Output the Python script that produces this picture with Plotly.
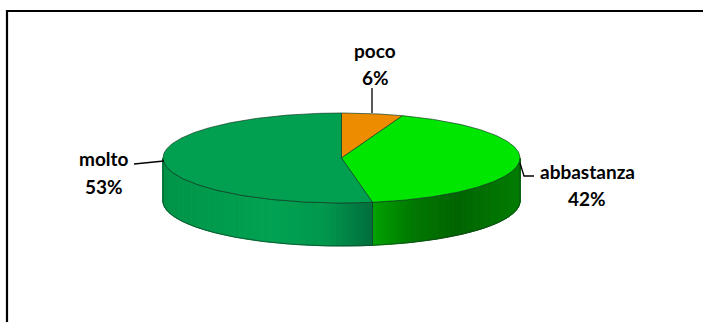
import numpy as np
import plotly.graph_objects as go

# ---- data ----
categories = ["poco", "abbastanza", "molto"]
values = [2, 15, 19]

# ---- style ----
top_colors = {"poco": "#EE8C00", "abbastanza": "#00E600", "molto": "#00A050"}
# side gradient stops: (fraction of ellipse width from left, rgb)
side_stops = {
    "abbastanza": [(0.58, (0, 165, 0)), (0.70, (0, 120, 0)), (0.82, (0, 100, 0)), (1.0, (0, 125, 0))],
    "molto": [(0.0, (0, 148, 72)), (0.30, (0, 162, 82)), (0.45, (0, 152, 76)), (0.59, (0, 108, 60))],
    "poco": [(0.0, (200, 110, 0)), (1.0, (200, 110, 0))],
}
EDGE = "rgba(20,60,35,0.85)"
FONT = dict(family="Lato, 'Open Sans', sans-serif", size=19, color="black")

W, H = 703, 322
CX, CY, RX, RY, DEPTH = 341.5, 158.0, 178.5, 45.0, 43.0


def pt(theta, dy=0.0):
    t = np.radians(theta)
    return CX + RX * np.sin(t), CY - RY * np.cos(t) + dy


def interp_color(stops, u):
    us = [s[0] for s in stops]
    out = []
    for k in range(3):
        out.append(int(round(np.interp(u, us, [s[1][k] for s in stops]))))
    return "rgb(%d,%d,%d)" % tuple(out)


total = float(sum(values))
fracs = [v / total for v in values]
starts, ends = [], []
cum = 0.0
for f in fracs:
    starts.append(cum * 360.0)
    cum += f
    ends.append(cum * 360.0)

fig = go.Figure()

# ---- side walls (front half: 90..270 deg) ----
for cat, a0, a1 in zip(categories, starts, ends):
    lo, hi = max(a0, 90.0), min(a1, 270.0)
    if hi <= lo:
        continue
    n = max(2, int(np.ceil(hi - lo)))
    th = np.linspace(lo, hi, n + 1)
    for i in range(n):
        x0, y0 = pt(th[i])
        x1, y1 = pt(th[i + 1])
        u = ((x0 + x1) / 2 - (CX - RX)) / (2 * RX)
        c = interp_color(side_stops[cat], u)
        fig.add_trace(go.Scatter(
            x=[x0, x1, x1, x0, x0], y=[y0, y1, y1 + DEPTH, y0 + DEPTH, y0],
            mode="lines", fill="toself", fillcolor=c,
            line=dict(color=c, width=1), hoverinfo="skip", showlegend=False))
    # outline of this wall piece
    ta = np.linspace(lo, hi, 120)
    xs_t, ys_t = pt(ta)
    xs_b, ys_b = pt(ta[::-1], DEPTH)
    fig.add_trace(go.Scatter(
        x=list(xs_t) + list(xs_b) + [xs_t[0]],
        y=list(ys_t) + list(ys_b) + [ys_t[0]],
        mode="lines", line=dict(color=EDGE, width=0.8),
        hoverinfo="skip", showlegend=False))

# ---- top face slices ----
for cat, a0, a1 in zip(categories, starts, ends):
    ta = np.linspace(a0, a1, max(10, int(a1 - a0) * 2))
    xs, ys = pt(ta)
    fig.add_trace(go.Scatter(
        x=[CX] + list(xs) + [CX], y=[CY] + list(ys) + [CY],
        mode="lines", fill="toself", fillcolor=top_colors[cat],
        line=dict(color=EDGE, width=0.8), hoverinfo="skip", showlegend=False))

# ---- labels ----
pct = [int(round(f * 100)) for f in fracs]
label_pos = {  # (x center, y of name, y of pct)
    "poco": (375, 50, 77),
    "abbastanza": (587, 171, 198),
    "molto": (104, 158, 186),
}
annotations = []
for cat, p in zip(categories, pct):
    x, yn, yp = label_pos[cat]
    annotations.append(dict(x=x, y=yn, xref="x", yref="y", text="<b>%s</b>" % cat,
                            showarrow=False, font=FONT, xanchor="center", yanchor="middle"))
    annotations.append(dict(x=x, y=yp, xref="x", yref="y", text="<b>%d%%</b>" % p,
                            showarrow=False, font=FONT, xanchor="center", yanchor="middle"))

# leader lines
leaders = {
    "poco": ([372, 372], [88, 113]),
    "abbastanza": ([520, 524, 534], [163, 176, 176]),
    "molto": ([134, 164], [164, 161]),
}
for cat in categories:
    lx, ly = leaders[cat]
    fig.add_trace(go.Scatter(x=lx, y=ly, mode="lines", line=dict(color="black", width=1.3),
                             hoverinfo="skip", showlegend=False))

fig.update_layout(
    width=W, height=H, margin=dict(l=0, r=0, t=0, b=0),
    paper_bgcolor="white", plot_bgcolor="white",
    xaxis=dict(range=[0, W], visible=False, fixedrange=True),
    yaxis=dict(range=[H, 0], visible=False, fixedrange=True),
    annotations=annotations,
    shapes=[dict(type="rect", xref="x", yref="y", x0=7, y0=11, x1=W + 20, y1=H + 20,
                 line=dict(color="black", width=2.2), fillcolor="rgba(0,0,0,0)")],
)

fig.write_html("out.html")
